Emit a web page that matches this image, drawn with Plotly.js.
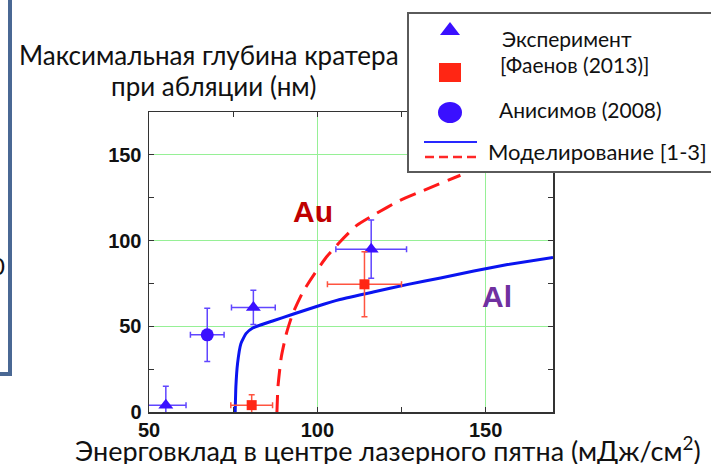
<!DOCTYPE html>
<html>
<head>
<meta charset="utf-8">
<script src="https://cdn.plot.ly/plotly-3.0.1.min.js"></script>
<style>
  html, body { margin: 0; padding: 0; background: #ffffff; }
  #chart { width: 711px; height: 464px; }
</style>
</head>
<body>
<div id="chart"></div>
<script>
// Experimental data: Al crater depth (nm) vs. absorbed fluence (mJ/cm^2)
const expX = [55, 81, 116];
const expY = [4, 61, 95];
const expXErr = [6, 6.5, 10.5];
const expYErr = [11, 10, 17];

const faenovX = [80.5, 114];
const faenovY = [4, 74.5];
const faenovXErr = [6.2, 11];
const faenovYErr = [6, 19];

const anisimovX = [67.3];
const anisimovY = [45];
const anisimovXErr = [5];
const anisimovYErr = [15.5];

// Simulation curves
const alModelX = [75.6, 75.8, 76.3, 77.3, 78.8, 80.8, 86.7, 92.7, 100, 106.7, 116.6, 126.6, 136.6, 146.5, 156.5, 170];
const alModelY = [0, 14.6, 28.2, 39.9, 45.7, 49, 53.1, 57, 61.7, 65.6, 70, 74.3, 78.2, 82.3, 86, 90.1];

const auModelX = [88, 88.3, 89.3, 90.8, 92.7, 95.7, 99.2, 102.7, 106.7, 111.7, 116.6, 124.6, 131.6, 142.5];
const auModelY = [0, 14.6, 32.1, 45.7, 57.4, 70, 80.7, 90.4, 99.2, 108.9, 114.8, 123.5, 129.3, 138.1];

const xTicks = [50, 100, 150];
const yTicks = [0, 50, 100, 150];

const titleLines = ['Максимальная глубина кратера', 'при абляции (нм)'];
const xTitle = 'Энерговклад в центре лазерного пятна (мДж/см<sup>2</sup>)';
const legendLabels = ['Эксперимент', '[Фаенов (2013)]', 'Анисимов (2008)', 'Моделирование [1-3]'];

const BLUE = 'rgb(58,16,255)';
const BLUE_ERR = 'rgb(96,70,255)';
const RED = 'rgb(255,38,20)';
const RED_ERR = 'rgb(255,84,64)';
const TEXT_FONT = 'Lato, "Open Sans", sans-serif';

// plot-area geometry in page pixels
const M = { l: 149, r: 158, t: 112, b: 52 };
const W = 711, H = 464;
const PW = W - M.l - M.r, PH = H - M.t - M.b;
const px = x => (x - M.l) / PW;
const py = y => (H - M.b - y) / PH;

function errTrace(x, y, ex, ey, symbol, size, color, errColor) {
  return {
    type: 'scatter', mode: 'markers', x: x, y: y,
    marker: { symbol: symbol, size: size, color: color },
    error_x: { type: 'data', array: ex, visible: true, color: errColor, thickness: 1.5, width: 3 },
    error_y: { type: 'data', array: ey, visible: true, color: errColor, thickness: 1.5, width: 3 },
    showlegend: false, hoverinfo: 'x+y'
  };
}

const traces = [
  { type: 'scatter', mode: 'lines', x: alModelX, y: alModelY,
    line: { color: 'rgb(10,20,240)', width: 3, shape: 'spline', smoothing: 0.4 }, showlegend: false },
  { type: 'scatter', mode: 'lines', x: auModelX, y: auModelY,
    line: { color: 'rgb(255,25,25)', width: 3, dash: '17px,9px', shape: 'spline', smoothing: 0.5 }, showlegend: false },
  errTrace(expX, expY, expXErr, expYErr, 'triangle-up', 13, BLUE, BLUE_ERR),
  errTrace(faenovX, faenovY, faenovXErr, faenovYErr, 'square', 10, RED, RED_ERR),
  errTrace(anisimovX, anisimovY, anisimovXErr, anisimovYErr, 'circle', 13, BLUE, BLUE_ERR)
];

const tickFont = { family: '"Liberation Sans", Arial, sans-serif', size: 20, color: '#111', weight: 'bold' };

const axisCommon = {
  showline: true, linecolor: '#333', linewidth: 1.5, mirror: 'allticks',
  ticks: 'inside', ticklen: 5, tickcolor: '#333', tickwidth: 1,
  showgrid: true, gridcolor: 'rgb(150,240,150)', gridwidth: 1,
  zeroline: false, tickfont: tickFont, fixedrange: true
};

const shapes = [
  // edge of the neighbouring panel
  { type: 'line', xref: 'paper', yref: 'paper', x0: px(10), x1: px(10), y0: py(-5), y1: py(374),
    line: { color: 'rgb(74,104,148)', width: 4 }, layer: 'above' },
  { type: 'line', xref: 'paper', yref: 'paper', x0: px(-5), x1: px(12), y0: py(374), y1: py(374),
    line: { color: 'rgb(74,104,148)', width: 4 }, layer: 'above' },
  // legend frame
  { type: 'rect', xref: 'paper', yref: 'paper', x0: px(408), x1: px(716), y0: py(13), y1: py(172),
    line: { color: '#5a5a5a', width: 2 }, fillcolor: '#ffffff', layer: 'above' },
  // legend symbols
  { type: 'path', xref: 'paper', yref: 'paper',
    path: `M ${px(440)} ${py(35)} L ${px(460)} ${py(35)} L ${px(450)} ${py(22)} Z`,
    fillcolor: BLUE, line: { width: 0 }, layer: 'above' },
  { type: 'rect', xref: 'paper', yref: 'paper', x0: px(439), x1: px(461), y0: py(63), y1: py(82),
    fillcolor: RED, line: { width: 0 }, layer: 'above' },
  { type: 'circle', xref: 'paper', yref: 'paper', x0: px(438), x1: px(462), y0: py(102), y1: py(123),
    fillcolor: BLUE, line: { width: 0 }, layer: 'above' },
  { type: 'line', xref: 'paper', yref: 'paper', x0: px(424), x1: px(477), y0: py(142), y1: py(142),
    line: { color: 'rgb(40,40,255)', width: 2 }, layer: 'above' },
  { type: 'line', xref: 'paper', yref: 'paper', x0: px(425), x1: px(479), y0: py(157), y1: py(157),
    line: { color: 'rgb(255,40,40)', width: 2.5, dash: '9px,5px' }, layer: 'above' }
];

function textAt(x, y, text, size, opts) {
  return Object.assign({
    xref: 'paper', yref: 'paper', x: px(x), y: py(y), text: text, showarrow: false,
    xanchor: 'center', yanchor: 'middle',
    font: { family: TEXT_FONT, size: size, color: '#111' }
  }, opts || {});
}

const annotations = [
  textAt(209, 55, titleLines[0], 26),
  textAt(213, 86, titleLines[1], 26),
  textAt(388, 449, xTitle, 27),
  textAt(567, 39, legendLabels[0], 21),
  textAt(574, 65, legendLabels[1], 21),
  textAt(580, 109, legendLabels[2], 21),
  textAt(597, 151, legendLabels[3], 22),
  textAt(313, 211, 'Au', 30, { font: { family: '"Liberation Sans", Arial, sans-serif', size: 30, color: 'rgb(192,0,0)', weight: 'bold' } }),
  textAt(497, 296, 'Al', 30, { font: { family: '"Liberation Sans", Arial, sans-serif', size: 30, color: 'rgb(112,48,160)', weight: 'bold' } }),
  textAt(7, 265, '0', 24, { xanchor: 'right' })
];

const layout = {
  width: W, height: H,
  margin: { l: M.l, r: M.r, t: M.t, b: M.b, pad: 0 },
  paper_bgcolor: '#ffffff', plot_bgcolor: '#ffffff',
  showlegend: false,
  xaxis: Object.assign({}, axisCommon, {
    range: [50, 170], tickvals: xTicks, ticklabelstandoff: -1,
    minor: { dtick: 25, tick0: 0, ticks: 'inside', ticklen: 5, tickcolor: '#333', showgrid: false }
  }),
  yaxis: Object.assign({}, axisCommon, {
    range: [0, 175], tickvals: yTicks, ticklabelstandoff: 2,
    minor: { dtick: 25, tick0: 0, ticks: 'inside', ticklen: 5, tickcolor: '#333', showgrid: false }
  }),
  shapes: shapes,
  annotations: annotations
};

Plotly.newPlot('chart', traces, layout, { staticPlot: true, displayModeBar: false });
</script>
</body>
</html>
